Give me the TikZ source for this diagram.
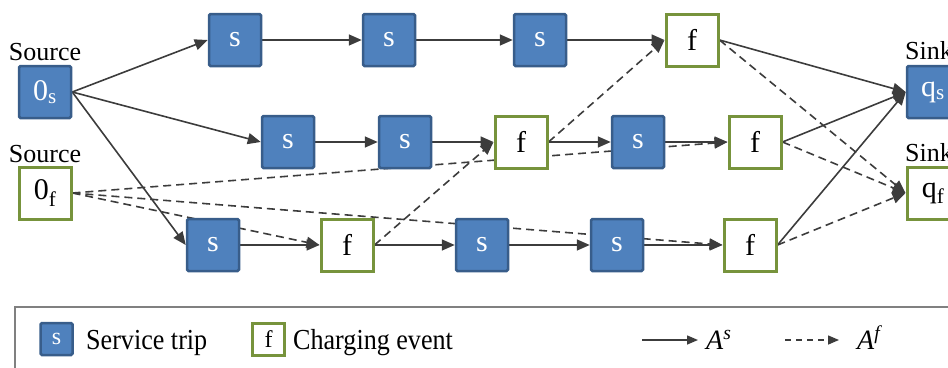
\documentclass[tikz,border=0pt]{standalone}
\usepackage{fontspec}
\setmainfont{Liberation Serif}
\usetikzlibrary{arrows.meta,backgrounds}
\definecolor{sblue}{HTML}{4F81BD}
\definecolor{sborder}{HTML}{385D8A}
\definecolor{fgreen}{HTML}{77933C}
\definecolor{arrc}{HTML}{3C3C3C}
\definecolor{framec}{HTML}{808080}
\newcommand\bxfont{\fontsize{30}{32}\selectfont}
\newcommand\lblfont{\fontsize{26}{28}\selectfont}
\newcommand\lgfont{\fontsize{29}{31}\selectfont}
\newcommand\lgbxfont{\fontsize{24}{26}\selectfont}
\tikzset{
  sbx/.style={draw=sborder, fill=sblue, line width=2.5pt, rounded corners=1.5pt,
    minimum size=52pt, inner sep=0pt, text=white, font=\bxfont},
  fbx/.style={draw=fgreen, fill=white, line width=3pt,
    minimum size=52pt, inner sep=0pt, text=black, font=\bxfont},
  lsbx/.style={sbx, minimum size=32pt, font=\lgbxfont},
  lfbx/.style={fbx, minimum size=32pt, font=\lgbxfont},
  lbl/.style={font=\lblfont, inner sep=0pt, anchor=base},
  as/.style={draw=arrc, line width=1.6pt, -{Triangle[length=13pt,width=11pt]}},
  af/.style={as, dash pattern=on 8pt off 5pt},
  las/.style={draw=arrc, line width=1.5pt, -{Triangle[length=11pt,width=9pt]}},
  laf/.style={las, dash pattern=on 6pt off 5pt},
  lgtext/.style={font=\lgfont, inner sep=0pt, anchor=base west}
}
\begin{document}
\begin{tikzpicture}[x=1pt,y=-1pt]
\useasboundingbox (0,0) rectangle (948,367);
\clip (0,0) rectangle (948,367);
% sources and sinks
\node[sbx] (os) at (45,92) {0\textsubscript{s}};
\node[fbx] (of) at (45,193) {0\textsubscript{f}};
\node[lbl] (srcs) at (45,60) {Source};
\node[lbl] (srcf) at (45,162) {Source};
\node[sbx] (qs) at (933,92) {q\textsubscript{s}};
\node[fbx] (qf) at (933,193) {q\textsubscript{f}};
\node[lbl, anchor=base west] (snks) at (905,59) {Sink};
\node[lbl, anchor=base west] (snkf) at (905,161) {Sink};
% row 1
\node[sbx] (a1) at (235,40) {s};
\node[sbx] (a2) at (389,40) {s};
\node[sbx] (a3) at (540,40) {s};
\node[fbx] (a4) at (692,40) {f};
% row 2
\node[sbx] (b1) at (288,142) {s};
\node[sbx] (b2) at (405,142) {s};
\node[fbx] (b3) at (521,142) {f};
\node[sbx] (b4) at (638,142) {s};
\node[fbx] (b5) at (755,142) {f};
% row 3
\node[sbx] (c1) at (213,245) {s};
\node[fbx] (c2) at (347,245) {f};
\node[sbx] (c3) at (482,245) {s};
\node[sbx] (c4) at (617,245) {s};
\node[fbx] (c5) at (750,245) {f};
% edges behind boxes
\begin{scope}[on background layer]
\draw[as] (os.east) -- (a1.west);
\draw[as] (os.east) -- (b1.west);
\draw[as] (os.east) -- (c1.west);
\draw[as] (a1) -- (a2);
\draw[as] (a2) -- (a3);
\draw[as] (a3) -- (a4);
\draw[as] (b1) -- (b2);
\draw[as] (b2) -- (b3);
\draw[as] (b3) -- (b4);
\draw[as] (b4) -- (b5);
\draw[as] (c1) -- (c2);
\draw[as] (c2) -- (c3);
\draw[as] (c3) -- (c4);
\draw[as] (c4) -- (c5);
\draw[as] (a4.east) -- (qs.west);
\draw[as] (b5.east) -- (qs.west);
\draw[as] (c5.east) -- (qs.west);
\draw[af] (of.east) -- (b5.west);
\draw[af] (of.east) -- (c5.west);
\draw[af] (of.east) -- (c2.west);
\draw[af] (c2.east) -- (b3.west);
\draw[af] (b3.east) -- (a4.west);
\draw[af] (a4.east) -- (qf.west);
\draw[af] (b5.east) -- (qf.west);
\draw[af] (c5.east) -- (qf.west);
\end{scope}
% legend
\draw[framec, line width=2.2pt] (960,307) -- (15,307) -- (15,380);
\node[lsbx] (ls) at (56.5,339) {s};
\node[lgtext] (lst) at (86,349) {\scalebox{0.9}[1]{Service trip}};
\node[lfbx] (lf) at (268.5,339) {f};
\node[lgtext] (lft) at (293,349) {\scalebox{0.9}[1]{Charging event}};
\coordinate (l1a) at (642,340);
\coordinate (l1b) at (698,340);
\draw[las] (l1a) -- (l1b);
\node[lgtext, font=\fontsize{28}{30}\selectfont] (las) at (706,349) {\textit{A}\textsuperscript{\textit{s}}};
\coordinate (l2a) at (785,340);
\coordinate (l2b) at (839,340);
\draw[laf] (l2a) -- (l2b);
\node[lgtext, font=\fontsize{28}{30}\selectfont] (laf) at (857,349) {\textit{A}\textsuperscript{\textit{f}}};
\end{tikzpicture}
\end{document}
